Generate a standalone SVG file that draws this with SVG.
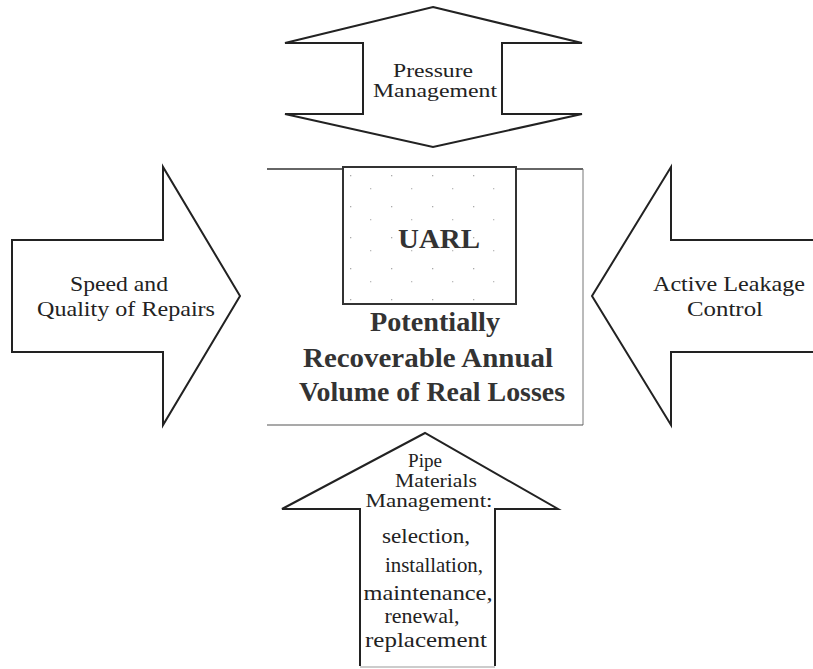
<svg xmlns="http://www.w3.org/2000/svg" width="813" height="669" viewBox="0 0 813 669">
<style>
.arrow{fill:#fff;stroke:#222;stroke-width:2;stroke-linejoin:miter}
.lbl{font-family:"Liberation Serif","Times New Roman",serif;font-size:22px;fill:#222;text-anchor:middle}
.sm{font-size:19px}
.bold{font-family:"Liberation Serif","Times New Roman",serif;font-size:27px;font-weight:bold;fill:#333;text-anchor:middle}
</style>
<defs>
<pattern id="dots" x="343" y="167" width="41" height="31" patternUnits="userSpaceOnUse">
<rect x="7" y="8" width="1.3" height="1.3" fill="#aaa"/>
<rect x="27" y="21" width="1.3" height="1.3" fill="#bbb"/>
</pattern>
</defs>
<rect width="813" height="669" fill="#fff"/>
<g id="connectors">
<line x1="267" y1="169" x2="583" y2="169" stroke="#333" stroke-width="1.5"/>
<line x1="583" y1="169" x2="583" y2="425" stroke="#777" stroke-width="1"/>
<line x1="267" y1="425" x2="583" y2="425" stroke="#555" stroke-width="1.2"/>
</g>
<g id="uarl">
<rect x="343" y="167" width="173" height="137" fill="#fff" stroke="#333" stroke-width="2"/>
<rect x="345" y="169" width="169" height="133" fill="url(#dots)"/>
<text class="bold" x="439" y="248" font-size="29" textLength="82" lengthAdjust="spacingAndGlyphs">UARL</text>
</g>
<g id="center-text">
<text class="bold" x="435" y="331" textLength="130" lengthAdjust="spacingAndGlyphs">Potentially</text>
<text class="bold" x="428" y="367" textLength="250" lengthAdjust="spacingAndGlyphs">Recoverable Annual</text>
<text class="bold" x="432" y="401" textLength="266" lengthAdjust="spacingAndGlyphs">Volume of Real Losses</text>
</g>
<g id="pressure">
<polygon class="arrow" points="433,7 582,43 502,43 502,114 582,114 433,147 285,114 363,114 363,43 285,43"/>
<text class="lbl sm" x="433" y="77" textLength="80" lengthAdjust="spacingAndGlyphs">Pressure</text>
<text class="lbl sm" x="435" y="97" textLength="124" lengthAdjust="spacingAndGlyphs">Management</text>
</g>
<g id="speed">
<polygon class="arrow" points="12,240 163,240 163,167 240,296 163,425 163,352 12,352"/>
<text class="lbl" x="119" y="291" textLength="98" lengthAdjust="spacingAndGlyphs">Speed and</text>
<text class="lbl" x="126" y="316" textLength="178" lengthAdjust="spacingAndGlyphs">Quality of Repairs</text>
</g>
<g id="active">
<polyline class="arrow" points="813,240 671,240 671,167 592,296 671,425 671,352 813,352"/>
<text class="lbl" x="729" y="291" textLength="152" lengthAdjust="spacingAndGlyphs">Active Leakage</text>
<text class="lbl" x="725" y="316" textLength="76" lengthAdjust="spacingAndGlyphs">Control</text>
</g>
<g id="pipe">
<polyline class="arrow" points="360,666 360,509 282,509 425,433 558,509 495,509 495,666"/>
<line x1="360" y1="667" x2="495" y2="667" stroke="#999" stroke-width="1"/>
<text class="lbl sm" x="425" y="467" textLength="34" lengthAdjust="spacingAndGlyphs">Pipe</text>
<text class="lbl sm" x="436" y="487" textLength="82" lengthAdjust="spacingAndGlyphs">Materials</text>
<text class="lbl sm" x="429" y="507" textLength="127" lengthAdjust="spacingAndGlyphs">Management:</text>
<text class="lbl" x="426" y="543" textLength="88" lengthAdjust="spacingAndGlyphs">selection,</text>
<text class="lbl" x="434" y="572" textLength="98" lengthAdjust="spacingAndGlyphs">installation,</text>
<text class="lbl" x="428" y="600" textLength="129" lengthAdjust="spacingAndGlyphs">maintenance,</text>
<text class="lbl" x="422" y="623" textLength="75" lengthAdjust="spacingAndGlyphs">renewal,</text>
<text class="lbl" x="426" y="647" textLength="122" lengthAdjust="spacingAndGlyphs">replacement</text>
</g>
</svg>
